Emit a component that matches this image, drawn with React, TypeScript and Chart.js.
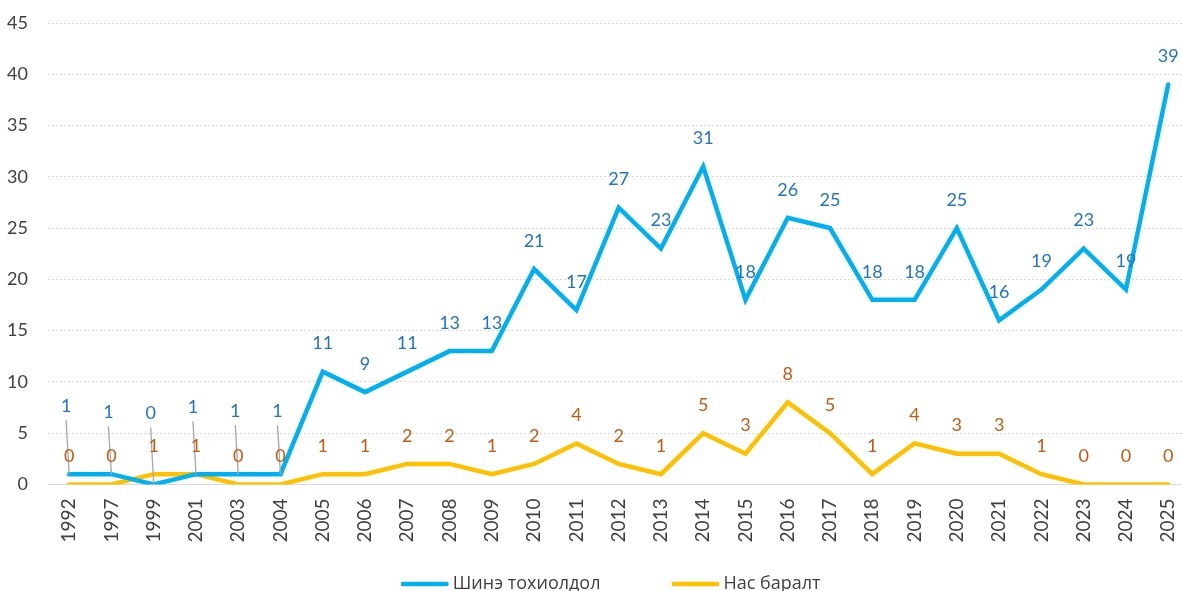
import React, { useEffect, useRef } from "react";
import { Chart, registerables } from "chart.js";

Chart.register(...registerables);

const years = [
  "1992", "1997", "1999", "2001", "2003", "2004", "2005", "2006", "2007", "2008",
  "2009", "2010", "2011", "2012", "2013", "2014", "2015", "2016", "2017", "2018",
  "2019", "2020", "2021", "2022", "2023", "2024", "2025",
];
const newCases = [1, 1, 0, 1, 1, 1, 11, 9, 11, 13, 13, 21, 17, 27, 23, 31, 18, 26, 25, 18, 18, 25, 16, 19, 23, 19, 39];
const deaths = [0, 0, 1, 1, 0, 0, 1, 1, 2, 2, 1, 2, 4, 2, 1, 5, 3, 8, 5, 1, 4, 3, 3, 1, 0, 0, 0];
const seriesNames = ["Шинэ тохиолдол", "Нас баралт"];
const yTicks = { min: 0, max: 45, step: 5 };

// label lift (px) for the first blue labels that carry leader lines
const leaderLift = [68, 62, 71, 67, 63, 63];

const FONT = "Lato, 'Open Sans', sans-serif";
const LEGEND_FONT = "'Open Sans', sans-serif";
const TEXT = "#404040";
const BLUE = "#00B0F0";
const YELLOW = "#FFC000";
const BLUE_LABEL = "#1F74C4";
const ORANGE_LABEL = "#C55A11";

const labelPlugin = {
  id: "valueLabels",
  afterDatasetsDraw(chart: any) {
    const ctx = chart.ctx;
    ctx.save();
    ctx.font = `18px ${FONT}`;
    ctx.textAlign = "center";
    ctx.textBaseline = "middle";
    chart.data.datasets.forEach((ds: any, di: number) => {
      const meta = chart.getDatasetMeta(di);
      meta.data.forEach((el: any, i: number) => {
        const v = ds.data[i];
        let x = el.x;
        let y = el.y - 28;
        if (di === 0 && i < leaderLift.length) {
          x = el.x - 3;
          y = el.y - leaderLift[i];
          ctx.strokeStyle = "#A6A6A6";
          ctx.lineWidth = 1.3;
          ctx.beginPath();
          ctx.moveTo(x, y + 14);
          ctx.lineTo(el.x, el.y);
          ctx.stroke();
        }
        ctx.fillStyle = di === 0 ? BLUE_LABEL : ORANGE_LABEL;
        ctx.fillText(String(v), x, y);
      });
    });
    ctx.restore();
  },
};

const legendPlugin = {
  id: "bottomLegend",
  afterDraw(chart: any) {
    const ctx = chart.ctx;
    const lineLen = 48;
    const textGap = 4;
    const itemGap = 71;
    ctx.save();
    ctx.font = `18px ${LEGEND_FONT}`;
    ctx.textBaseline = "middle";
    const items = chart.data.datasets.map((ds: any) => ({
      label: ds.label,
      color: ds.borderColor,
      w: lineLen + textGap + ctx.measureText(ds.label).width,
    }));
    const total = items.reduce((a: number, it: any) => a + it.w, 0) + itemGap * (items.length - 1);
    const ca = chart.chartArea;
    let x = (ca.left + ca.right) / 2 - 8 - total / 2;
    const y = chart.height - 7;
    items.forEach((it: any) => {
      ctx.strokeStyle = it.color;
      ctx.lineWidth = 4.5;
      ctx.lineCap = "round";
      ctx.beginPath();
      ctx.moveTo(x + 2.25, y);
      ctx.lineTo(x + lineLen - 2.25, y);
      ctx.stroke();
      ctx.fillStyle = TEXT;
      ctx.textAlign = "left";
      ctx.fillText(it.label, x + lineLen + textGap, y);
      x += it.w + itemGap;
    });
    ctx.restore();
  },
};

export default function App() {
  const ref = useRef<HTMLCanvasElement>(null);
  useEffect(() => {
    if (!ref.current) return;
    const chart = new Chart(ref.current, {
      type: "line",
      data: {
        labels: years,
        datasets: [
          {
            label: seriesNames[0],
            data: newCases,
            borderColor: BLUE,
            backgroundColor: BLUE,
            borderWidth: 4.5,
            borderCapStyle: "round",
            borderJoinStyle: "miter",
            pointRadius: 0,
            tension: 0,
          },
          {
            label: seriesNames[1],
            data: deaths,
            borderColor: YELLOW,
            backgroundColor: YELLOW,
            borderWidth: 4.5,
            borderCapStyle: "round",
            borderJoinStyle: "miter",
            pointRadius: 0,
            tension: 0,
          },
        ],
      },
      options: {
        responsive: false,
        animation: false,
        devicePixelRatio: 1,
        layout: { padding: { top: 23, left: 0, right: 0, bottom: 34.5 } },
        plugins: {
          tooltip: { enabled: false },
          legend: { display: false },
        },
        scales: {
          x: {
            offset: true,
            grid: { display: false, drawTicks: false },
            border: { display: true, color: "#D9D9D9", width: 1 },
            ticks: {
              minRotation: 90,
              maxRotation: 90,
              autoSkip: false,
              padding: 14,
              color: TEXT,
              font: { family: FONT, size: 19 },
            },
          },
          y: {
            min: yTicks.min,
            max: yTicks.max,
            afterFit: (s: any) => {
              s.width = 48;
              s.paddingTop = 0;
              s.paddingBottom = 0;
            },
            grid: { color: "#D9D9D9", lineWidth: 1, drawTicks: false },
            border: { display: false, dash: [2, 2] },
            ticks: {
              stepSize: yTicks.step,
              padding: 20,
              color: TEXT,
              font: { family: FONT, size: 18 },
            },
          },
        },
      },
      plugins: [labelPlugin, legendPlugin],
    });
    return () => chart.destroy();
  }, []);
  return (
    <div style={{ position: "fixed", left: 0, top: 0, width: 1182, height: 591, overflow: "hidden", background: "#fff" }}>
      <canvas ref={ref} width={1205} height={591} />
    </div>
  );
}
